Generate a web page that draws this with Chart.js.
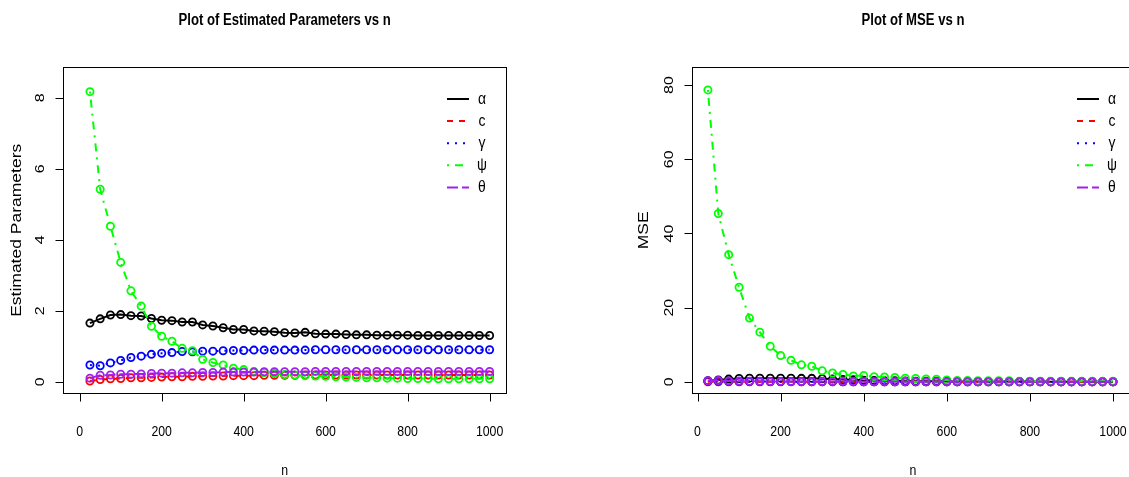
<!DOCTYPE html>
<html>
<head>
<meta charset="utf-8">
<title>Estimated parameters and MSE vs n</title>
<script src="https://cdn.jsdelivr.net/npm/chart.js@4.4.0/dist/chart.umd.min.js"></script>
<style>
html, body { margin: 0; padding: 0; background: #fff; overflow: hidden; }
#wrap { position: relative; width: 1129px; height: 477px; overflow: hidden; }
#wrap canvas { position: absolute; top: 0; }
#left { left: 0; }
#right { left: 565px; }
</style>
</head>
<body>
<div id="wrap">
  <canvas id="left" width="565" height="477"></canvas>
  <canvas id="right" width="570" height="477"></canvas>
</div>
<script>
// sample sizes
var nValues = [25, 50, 75, 100, 125, 150, 175, 200, 225, 250, 275, 300, 325, 350, 375, 400,
  425, 450, 475, 500, 525, 550, 575, 600, 625, 650, 675, 700, 725, 750, 775, 800,
  825, 850, 875, 900, 925, 950, 975, 1000];

var paramLabels = ['α', 'c', 'γ', 'ψ', 'θ'];

// estimated parameters
var alphaEst = [1.65, 1.77, 1.88, 1.89, 1.86, 1.85, 1.78, 1.73, 1.72, 1.68, 1.68, 1.60, 1.57, 1.52, 1.47, 1.47,
  1.43, 1.42, 1.41, 1.38, 1.37, 1.39, 1.35, 1.34, 1.34, 1.33, 1.32, 1.32, 1.31, 1.31, 1.31, 1.31,
  1.30, 1.30, 1.30, 1.30, 1.30, 1.30, 1.30, 1.30];
var cEst = [0.02, 0.06, 0.08, 0.09, 0.11, 0.11, 0.12, 0.13, 0.14, 0.14, 0.15, 0.15, 0.16, 0.16, 0.17, 0.17,
  0.17, 0.18, 0.18, 0.18, 0.18, 0.19, 0.19, 0.19, 0.19, 0.19, 0.19, 0.19, 0.19, 0.19, 0.19, 0.19,
  0.19, 0.19, 0.19, 0.19, 0.19, 0.19, 0.19, 0.19];
var gammaEst = [0.47, 0.45, 0.53, 0.60, 0.68, 0.72, 0.77, 0.80, 0.82, 0.85, 0.84, 0.86, 0.86, 0.87, 0.88, 0.88,
  0.89, 0.89, 0.89, 0.89, 0.89, 0.89, 0.90, 0.90, 0.90, 0.90, 0.90, 0.90, 0.90, 0.90, 0.90, 0.90,
  0.90, 0.90, 0.90, 0.90, 0.90, 0.90, 0.90, 0.90];
var psiEst = [8.17, 5.42, 4.38, 3.36, 2.56, 2.13, 1.56, 1.28, 1.14, 0.94, 0.87, 0.63, 0.54, 0.47, 0.38, 0.34,
  0.29, 0.26, 0.23, 0.20, 0.19, 0.17, 0.16, 0.15, 0.14, 0.13, 0.12, 0.11, 0.11, 0.10, 0.10, 0.09,
  0.09, 0.09, 0.08, 0.08, 0.08, 0.08, 0.08, 0.08];
var thetaEst = [0.10, 0.18, 0.19, 0.21, 0.21, 0.22, 0.23, 0.24, 0.24, 0.25, 0.25, 0.26, 0.26, 0.27, 0.27, 0.27,
  0.27, 0.28, 0.28, 0.28, 0.28, 0.28, 0.29, 0.29, 0.29, 0.29, 0.29, 0.29, 0.29, 0.29, 0.29, 0.29,
  0.29, 0.29, 0.29, 0.29, 0.29, 0.29, 0.29, 0.29];

// mean squared errors
var alphaMse = [0.30, 0.50, 0.75, 0.90, 1.00, 1.00, 1.00, 1.00, 1.00, 0.95, 0.95, 0.85, 0.75, 0.65, 0.55, 0.45,
  0.38, 0.32, 0.27, 0.23, 0.20, 0.17, 0.15, 0.13, 0.12, 0.11, 0.10, 0.09, 0.08, 0.08, 0.07, 0.07,
  0.07, 0.06, 0.06, 0.06, 0.05, 0.05, 0.05, 0.05];
var cMse = [0.03, 0.03, 0.02, 0.02, 0.02, 0.02, 0.02, 0.02, 0.02, 0.02, 0.01, 0.01, 0.01, 0.01, 0.01, 0.01,
  0.01, 0.01, 0.01, 0.01, 0.01, 0.01, 0.01, 0.01, 0.01, 0.01, 0.01, 0.01, 0.01, 0.01, 0.01, 0.01,
  0.01, 0.01, 0.01, 0.01, 0.01, 0.01, 0.01, 0.01];
var gammaMse = [0.25, 0.22, 0.18, 0.15, 0.12, 0.10, 0.09, 0.08, 0.07, 0.06, 0.06, 0.05, 0.05, 0.04, 0.04, 0.04,
  0.03, 0.03, 0.03, 0.03, 0.03, 0.02, 0.02, 0.02, 0.02, 0.02, 0.02, 0.02, 0.02, 0.02, 0.02, 0.02,
  0.02, 0.02, 0.02, 0.02, 0.02, 0.02, 0.02, 0.02];
var psiMse = [78.7, 45.4, 34.3, 25.5, 17.2, 13.4, 9.6, 7.1, 5.8, 4.6, 4.2, 3.0, 2.4, 2.0, 1.6, 1.7,
  1.4, 1.3, 1.2, 1.0, 0.9, 0.8, 0.7, 0.5, 0.4, 0.4, 0.3, 0.3, 0.3, 0.3, 0.2, 0.2,
  0.2, 0.2, 0.2, 0.2, 0.2, 0.2, 0.2, 0.2];
var thetaMse = [0.30, 0.35, 0.25, 0.20, 0.18, 0.15, 0.13, 0.12, 0.11, 0.10, 0.09, 0.08, 0.08, 0.07, 0.07, 0.06,
  0.06, 0.06, 0.05, 0.05, 0.05, 0.05, 0.05, 0.04, 0.04, 0.04, 0.04, 0.04, 0.04, 0.04, 0.04, 0.04,
  0.04, 0.04, 0.04, 0.04, 0.04, 0.04, 0.04, 0.04];

var xTicks = [0, 200, 400, 600, 800, 1000];
var estTicks = [0, 2, 4, 6, 8];
var mseTicks = [0, 20, 40, 60, 80];

// R's lty 1..5 with lwd = 2
var lineColors = ['#000000', '#ff0000', '#0000ff', '#00ff00', '#a020f0'];
var lineDashes = [[], [6, 6], [2, 6], [2, 6, 8, 6], [11, 4]];

var squish = 0.82;  // narrow glyphs like the original device
var family = '"Liberation Sans", Arial, sans-serif';

function narrowText(ctx, str, x, y, font, rotate, align) {
  ctx.save();
  ctx.translate(x, y);
  ctx.scale(squish, 1);
  if (rotate) ctx.rotate(-Math.PI / 2);
  ctx.font = font;
  ctx.fillStyle = '#000';
  ctx.textAlign = align || 'center';
  ctx.textBaseline = 'middle';
  ctx.fillText(str, 0, 0);
  ctx.restore();
}

function buildDatasets(series) {
  return series.map(function (vals, i) {
    return {
      label: paramLabels[i],
      data: nValues.map(function (n, j) { return { x: n, y: vals[j] }; }),
      borderColor: lineColors[i],
      borderWidth: 2,
      borderDash: lineDashes[i],
      pointStyle: 'circle',
      pointRadius: 3.6,
      pointBorderWidth: 1.8,
      pointBorderColor: lineColors[i],
      pointBackgroundColor: 'rgba(0,0,0,0)',
      tension: 0,
      order: series.length - i
    };
  });
}

// box, axes, titles and legend in base-graphics style
var rFrame = {
  id: 'rFrame',
  afterDraw: function (chart, args, o) {
    var ctx = chart.ctx, a = chart.chartArea;
    var xs = chart.scales.x, ys = chart.scales.y;
    ctx.save();
    ctx.strokeStyle = '#000';
    ctx.lineWidth = 1;
    ctx.setLineDash([]);
    ctx.strokeRect(Math.round(a.left) + 0.5, Math.round(a.top) + 0.5,
      Math.round(a.right - a.left), Math.round(a.bottom - a.top));

    // x axis
    var bottom = Math.round(a.bottom) + 0.5;
    ctx.beginPath();
    o.xTicks.forEach(function (t) {
      var px = Math.round(xs.getPixelForValue(t)) + 0.5;
      ctx.moveTo(px, bottom);
      ctx.lineTo(px, bottom + 8);
    });
    ctx.stroke();
    o.xTicks.forEach(function (t) {
      narrowText(ctx, String(t), xs.getPixelForValue(t), bottom + 38, '15px ' + family);
    });

    // y axis
    var left = Math.round(a.left) + 0.5;
    ctx.beginPath();
    o.yTicks.forEach(function (t) {
      var py = Math.round(ys.getPixelForValue(t)) + 0.5;
      ctx.moveTo(left, py);
      ctx.lineTo(left - 8, py);
    });
    ctx.stroke();
    o.yTicks.forEach(function (t) {
      narrowText(ctx, String(t), left - 23, ys.getPixelForValue(t), '16px ' + family, true);
    });

    var cx = (a.left + a.right) / 2;
    if (o.centerX !== undefined) cx = o.centerX;
    narrowText(ctx, o.title, cx, 21, 'bold 16px ' + family);
    narrowText(ctx, 'n', cx, 471, '15px ' + family);
    narrowText(ctx, o.yTitle, o.yTitleX, (a.top + a.bottom) / 2, '17.5px ' + family, true);

    // legend
    chart.data.datasets.forEach(function (ds, i) {
      var ly = o.legendY + i * 22.1;
      ctx.save();
      ctx.strokeStyle = ds.borderColor;
      ctx.lineWidth = 2;
      ctx.setLineDash(ds.borderDash);
      ctx.beginPath();
      ctx.moveTo(o.legendX, ly);
      ctx.lineTo(o.legendX + 22, ly);
      ctx.stroke();
      ctx.restore();
      narrowText(ctx, ds.label, o.legendX + 35, ly, '17px ' + family);
    });
    ctx.restore();
  }
};

function makeChart(id, series, yMin, yMax, xMin, xMax, padding, opts) {
  return new Chart(document.getElementById(id).getContext('2d'), {
    type: 'line',
    data: { datasets: buildDatasets(series) },
    options: {
      responsive: false,
      animation: false,
      layout: { padding: padding },
      scales: {
        x: { type: 'linear', min: xMin, max: xMax, display: false },
        y: { type: 'linear', min: yMin, max: yMax, display: false }
      },
      plugins: {
        legend: { display: false },
        tooltip: { enabled: false },
        rFrame: opts
      }
    },
    plugins: [rFrame]
  });
}

makeChart('left', [alphaEst, cEst, gammaEst, psiEst, thetaEst], -0.327, 8.856, -40, 1040,
  { left: 63.3, top: 67.3, right: 59, bottom: 83.7 },
  { title: 'Plot of Estimated Parameters vs n', yTitle: 'Estimated Parameters', yTitleX: 17,
    xTicks: xTicks, yTicks: estTicks, legendX: 447, legendY: 99 });

makeChart('right', [alphaMse, cMse, gammaMse, psiMse, thetaMse], -3.08, 84.8, -14, 1039,
  { left: 126.7, top: 67.3, right: 5, bottom: 83.7 },
  { title: 'Plot of MSE vs n', yTitle: 'MSE', yTitleX: 79, centerX: 348,
    xTicks: xTicks, yTicks: mseTicks, legendX: 512, legendY: 99 });
</script>
</body>
</html>
